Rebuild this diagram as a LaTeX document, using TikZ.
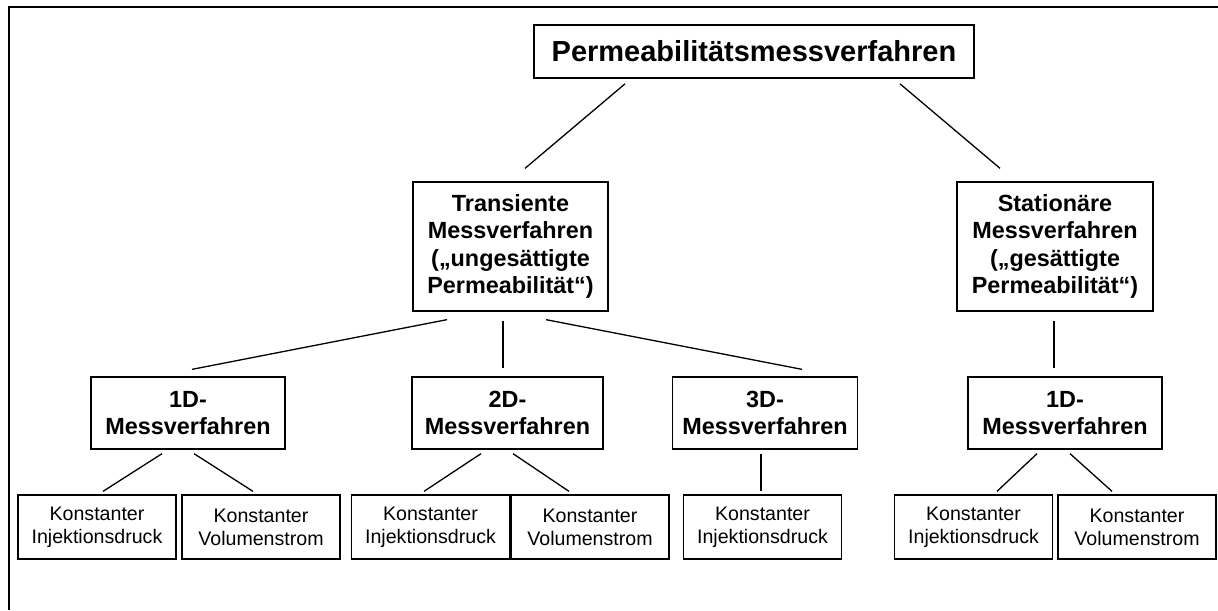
\documentclass[tikz,border=0pt]{standalone}
\usepackage{fontspec}
\setmainfont{Liberation Sans}
\usetikzlibrary{calc}

\begin{document}
\begin{tikzpicture}[
    x=0.5pt, y=-0.5pt,
    method/.style={draw, line width=0.65pt, inner sep=0pt, align=center, minimum height=36pt, font=\fontsize{11.7}{13.6}\selectfont\bfseries},
    variant/.style={draw, line width=0.65pt, inner sep=0pt, align=center, minimum width=79pt, minimum height=32pt, font=\fontsize{9.8}{11.5}\selectfont},
    link/.style={line width=0.65pt}
]
    \useasboundingbox (0,0) rectangle (1218,610);
    % Frame
    \draw[line width=1.35pt] (9,610) -- (9,7) -- (1218,7);

    % Root
    \node[method, line width=0.85pt, minimum width=220pt, minimum height=26.5pt, font=\fontsize{14.5}{16}\selectfont\bfseries] (perm) at (754,51.5) {Permeabilitätsmessverfahren};

    % Transient / stationary
    \node[method, minimum width=97.5pt, minimum height=64.5pt] (trans) at (510.5,246.5) {Transiente\\Messverfahren\\(„ungesättigte\\Permeabilität“)};
    \node[method, minimum width=98pt, minimum height=64.5pt] (stat) at (1055,246.5) {Stationäre\\Messverfahren\\(„gesättigte\\Permeabilität“)};

    % Dimensions
    \node[method, minimum width=97pt] (oneD) at (188,413) {1D-\\Messverfahren};
    \node[method, minimum width=95.5pt] (twoD) at (507.5,413) {2D-\\Messverfahren};
    \node[method, minimum width=92.5pt] (threeD) at (765,413) {3D-\\Messverfahren};
    \node[method, minimum width=97pt] (oneDs) at (1065,413) {1D-\\Messverfahren};

    % Variants
    \node[variant] (a1) at (97,527) {Konstanter\\Injektionsdruck};
    \node[variant] (a2) at (261,527) {Konstanter\\Volumenstrom};
    \node[variant] (b1) at (430.5,527) {Konstanter\\Injektionsdruck};
    \node[variant] (b2) at (590,527) {Konstanter\\Volumenstrom};
    \node[variant] (c1) at (762.5,527) {Konstanter\\Injektionsdruck};
    \node[variant] (d1) at (973.5,527) {Konstanter\\Injektionsdruck};
    \node[variant] (d2) at (1137,527) {Konstanter\\Volumenstrom};

    % Links
    \draw[link] ($(perm.south)+(-129,5)$) -- ($(trans.north)+(14.5,-13)$);
    \draw[link] ($(perm.south)+(146,5)$) -- ($(stat.north)+(-55,-13)$);
    \draw[link] ($(trans.south)+(-63.5,8)$) -- ($(oneD.north)+(4,-7)$);
    \draw[link] ($(trans.south)+(-7.5,9)$) -- ($(twoD.north)+(-4.5,-8)$);
    \draw[link] ($(trans.south)+(35.5,8)$) -- ($(threeD.north)+(37,-7)$);
    \draw[link] ($(stat.south)+(-1,9)$) -- ($(oneDs.north)+(-11,-8)$);
    \draw[link] ($(oneD.south)+(-26,4)$) -- ($(a1.north)+(6,-3)$);
    \draw[link] ($(oneD.south)+(6,4)$) -- ($(a2.north)+(-8,-3)$);
    \draw[link] ($(twoD.south)+(-26.5,4)$) -- ($(b1.north)+(-6.5,-3)$);
    \draw[link] ($(twoD.south)+(5.5,4)$) -- ($(b2.north)+(-21,-3)$);
    \draw[link] ($(threeD.south)+(-4,4)$) -- ($(c1.north)+(-1.5,-3)$);
    \draw[link] ($(oneDs.south)+(-28,4)$) -- ($(d1.north)+(23.5,-3)$);
    \draw[link] ($(oneDs.south)+(5,4)$) -- ($(d2.north)+(-25,-3)$);
\end{tikzpicture}
\end{document}
